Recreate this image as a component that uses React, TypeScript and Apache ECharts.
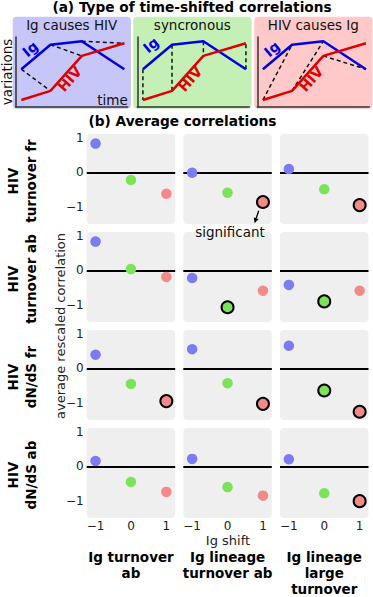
import React, { useEffect, useRef } from 'react';
import * as echarts from 'echarts';

// ---------- data ----------
const shifts = [-1, 0, 1];
const shiftTickLabels = ['\u22121', '0', '1'];
const corrTickValues = [-1, 0, 1];

const rowLabels = [
  ['HIV', 'turnover fr'],
  ['HIV', 'turnover ab'],
  ['HIV', 'dN/dS fr'],
  ['HIV', 'dN/dS ab'],
];
const colLabels = ['Ig turnover\nab', 'Ig lineage\nturnover ab', 'Ig lineage\nlarge\nturnover'];

// [column][shift -1, 0, 1]
const corrTurnoverFr = [[0.84, -0.22, -0.62], [-0.01, -0.59, -0.86], [0.1, -0.49, -0.95]];
const corrTurnoverAb = [[0.84, 0.04, -0.19], [-0.22, -1.07, -0.59], [-0.42, -0.9, -0.59]];
const corrDnDsFr = [[0.4, -0.45, -0.95], [0.56, -0.43, -1.03], [0.66, -0.64, -1.26]];
const corrDnDsAb = [[0.16, -0.45, -0.74], [0.22, -0.6, -0.85], [0.21, -0.78, -1.01]];

const sigTurnoverFr = [[0, 0, 0], [0, 0, 1], [0, 0, 1]];
const sigTurnoverAb = [[0, 0, 0], [0, 1, 0], [0, 1, 0]];
const sigDnDsFr = [[0, 0, 1], [0, 0, 1], [0, 1, 1]];
const sigDnDsAb = [[0, 0, 0], [0, 0, 0], [0, 0, 1]];

const corrRows = [corrTurnoverFr, corrTurnoverAb, corrDnDsFr, corrDnDsAb];
const sigRows = [sigTurnoverFr, sigTurnoverAb, sigDnDsFr, sigDnDsAb];

// schematic (panel a)
const schemeTitles = ['Ig causes HIV', 'syncronous', 'HIV causes Ig'];
const timePoints = [0.5, 3.1, 5.9, 9.7];
const igSignal = [0.54, 0.89, 0.94, 0.54];
const hivSignal = [0.1, 0.23, 0.73, 0.91];

// ---------- styles / layout ----------
const FONT = 'DejaVu Sans';
const BLUE = '#0000e0';
const RED = '#e00000';
const dotColors = ['#7b7bf2', '#7be35a', '#f28a8a'];
const boxColors = ['#c6c6f8', '#c4f0b6', '#ffc9c9'];
const boxLefts = [12.7, 133.3, 254.3];
const boxAxisLefts = [15.7, 137.3, 257.3];
const colLefts = [86.7, 183.3, 280];
const rowTops = [134, 232, 330, 428];
const PW = 88.5;
const PH = 90;

function buildOption() {
  const grid: any[] = [];
  const xAxis: any[] = [];
  const yAxis: any[] = [];
  const series: any[] = [];
  const graphic: any[] = [];

  const axisLineStyle = { color: '#333', width: 1.5 };

  // ---- panel (a) ----
  graphic.push({
    type: 'text', x: 192, y: 7, z: 10,
    style: { text: '(a) Type of time-shifted correlations', fontSize: 13.7, fontWeight: 'bold', fontFamily: FONT, fill: '#000', align: 'center', verticalAlign: 'middle' },
  });
  schemeTitles.forEach((title, b) => {
    graphic.push({
      type: 'rect', z: -1,
      shape: { x: boxLefts[b], y: 16.7, width: 118.2, height: 92, r: 4 },
      style: { fill: boxColors[b] },
    });
    graphic.push({
      type: 'text', x: boxLefts[b] + 59, y: 25, z: 10,
      style: { text: title, fontSize: 13.5, fontFamily: FONT, fill: '#111', align: 'center', verticalAlign: 'middle' },
    });
    graphic.push({
      type: 'text', x: boxLefts[b] + 17.5, y: b === 1 ? 45 : 49, z: 10, rotation: (40 * Math.PI) / 180,
      style: { text: 'Ig', fontSize: 14, fontWeight: 'bold', fontFamily: FONT, fill: BLUE, align: 'center', verticalAlign: 'middle' },
    });
    graphic.push({
      type: 'text', x: boxLefts[b] + 57, y: 79, z: 10, rotation: (48 * Math.PI) / 180,
      style: { text: 'HIV', fontSize: 14, fontWeight: 'bold', fontFamily: FONT, fill: RED, align: 'center', verticalAlign: 'middle' },
    });

    grid.push({ left: boxAxisLefts[b], top: 37, width: 112, height: 70, outerBoundsMode: 'none' });
    xAxis.push({
      gridIndex: b, type: 'value', min: 0, max: 10,
      axisLine: { show: true, onZero: false, lineStyle: axisLineStyle },
      axisTick: { show: false }, axisLabel: { show: false }, splitLine: { show: false },
    });
    yAxis.push({
      gridIndex: b, type: 'value', min: 0, max: 1,
      axisLine: { show: true, onZero: false, lineStyle: axisLineStyle },
      axisTick: { show: false }, axisLabel: { show: false }, splitLine: { show: false },
    });

    const pairs: number[][][] = [];
    if (b === 0) {
      for (let i = 0; i < 3; i++) pairs.push([[timePoints[i], igSignal[i]], [timePoints[i + 1], hivSignal[i + 1]]]);
    } else if (b === 1) {
      for (let i = 0; i < 4; i++) pairs.push([[timePoints[i], igSignal[i]], [timePoints[i], hivSignal[i]]]);
    } else {
      for (let i = 0; i < 3; i++) pairs.push([[timePoints[i], hivSignal[i]], [timePoints[i + 1], igSignal[i + 1]]]);
    }
    pairs.forEach((p) => {
      series.push({
        type: 'line', xAxisIndex: b, yAxisIndex: b, data: p, symbol: 'none', silent: true, z: 2,
        lineStyle: { color: '#111', width: 1.5, type: [4, 3] },
      });
    });
    series.push({
      type: 'line', xAxisIndex: b, yAxisIndex: b, symbol: 'none', silent: true, z: 3,
      data: timePoints.map((t, i) => [t, igSignal[i]]),
      lineStyle: { color: BLUE, width: 2.5 },
    });
    series.push({
      type: 'line', xAxisIndex: b, yAxisIndex: b, symbol: 'none', silent: true, z: 4,
      data: timePoints.map((t, i) => [t, hivSignal[i]]),
      lineStyle: { color: RED, width: 2.5 },
    });
  });
  graphic.push({
    type: 'text', x: 6.5, y: 72, z: 10, rotation: Math.PI / 2,
    style: { text: 'variations', fontSize: 13.5, fontFamily: FONT, fill: '#111', align: 'center', verticalAlign: 'middle' },
  });
  graphic.push({
    type: 'text', x: 112.5, y: 99.5, z: 10,
    style: { text: 'time', fontSize: 13.5, fontFamily: FONT, fill: '#111', align: 'center', verticalAlign: 'middle' },
  });

  // ---- panel (b) ----
  graphic.push({
    type: 'text', x: 182.5, y: 121, z: 10,
    style: { text: '(b) Average correlations', fontSize: 13.7, fontWeight: 'bold', fontFamily: FONT, fill: '#000', align: 'center', verticalAlign: 'middle' },
  });

  const fmt = (v: number) => shiftTickLabels[corrTickValues.indexOf(Math.round(v))] ?? String(v);

  rowTops.forEach((top, r) => {
    colLefts.forEach((left, c) => {
      const gi = grid.length;
      graphic.push({
        type: 'rect', z: -1,
        shape: { x: left, y: top, width: PW, height: PH, r: 4 },
        style: { fill: '#efefef' },
      });
      grid.push({ left, top, width: PW, height: PH, outerBoundsMode: 'none' });
      xAxis.push({
        gridIndex: gi, type: 'value', min: -1.25, max: 1.25,
        axisLine: { show: false }, axisTick: { show: false }, splitLine: { show: false },
        axisLabel: {
          show: r === rowTops.length - 1, customValues: shifts, formatter: fmt,
          margin: 2, fontSize: 12, fontFamily: FONT, color: '#222',
        },
      });
      yAxis.push({
        gridIndex: gi, type: 'value', min: -1.5, max: 1.12,
        axisLine: { show: false }, axisTick: { show: false }, splitLine: { show: false },
        axisLabel: {
          show: c === 0, customValues: corrTickValues, formatter: fmt,
          margin: 3, fontSize: 12, fontFamily: FONT, color: '#222',
        },
      });
      const vals = corrRows[r][c];
      const sig = sigRows[r][c];
      series.push({
        type: 'scatter', xAxisIndex: gi, yAxisIndex: gi, z: 3, clip: false, silent: true,
        data: shifts.map((s, k) => ({
          value: [s, vals[k]],
          symbolSize: sig[k] ? 12 : 10.5,
          itemStyle: {
            color: dotColors[k], opacity: 1,
            borderColor: sig[k] ? '#000' : dotColors[k],
            borderWidth: sig[k] ? 2 : 0,
          },
        })),
        markLine: {
          silent: true, z: 1, symbol: ['none', 'none'],
          label: { show: false },
          lineStyle: { color: '#000', width: 1.8, type: 'solid' },
          emphasis: { disabled: true },
          data: [{ yAxis: 0 }],
        },
      });
    });
    const cy = top + 47;
    graphic.push({
      type: 'text', x: 13, y: cy, z: 10, rotation: Math.PI / 2,
      style: { text: rowLabels[r][0], fontSize: 13.5, fontWeight: 'bold', fontFamily: FONT, fill: '#000', align: 'center', verticalAlign: 'middle' },
    });
    graphic.push({
      type: 'text', x: 31, y: cy, z: 10, rotation: Math.PI / 2,
      style: { text: rowLabels[r][1], fontSize: 13.5, fontWeight: 'bold', fontFamily: FONT, fill: '#000', align: 'center', verticalAlign: 'middle' },
    });
  });

  graphic.push({
    type: 'text', x: 60, y: 326, z: 10, rotation: Math.PI / 2,
    style: { text: 'average rescaled correlation', fontSize: 13, fontFamily: FONT, fill: '#222', align: 'center', verticalAlign: 'middle' },
  });
  graphic.push({
    type: 'text', x: 228, y: 540, z: 10,
    style: { text: 'Ig shift', fontSize: 13, fontFamily: FONT, fill: '#222', align: 'center', verticalAlign: 'middle' },
  });
  colLabels.forEach((lab, c) => {
    graphic.push({
      type: 'text', x: colLefts[c] + PW / 2, y: 549, z: 10,
      style: { text: lab, fontSize: 13.5, fontWeight: 'bold', fontFamily: FONT, fill: '#000', align: 'center', verticalAlign: 'top', lineHeight: 16 },
    });
  });

  // annotation
  graphic.push({
    type: 'text', x: 230, y: 231.5, z: 10,
    style: { text: 'significant', fontSize: 13.5, fontFamily: FONT, fill: '#111', align: 'center', verticalAlign: 'middle' },
  });
  graphic.push({
    type: 'polyline', z: 10,
    shape: { points: [[258.7, 210.7], [256.2, 218.3]] },
    style: { stroke: '#000', lineWidth: 1.3, fill: null },
  });
  graphic.push({
    type: 'polygon', z: 10,
    shape: { points: [[254.6, 223.2], [258.6, 219.0], [253.8, 217.5]] },
    style: { fill: '#000' },
  });

  return {
    animation: false,
    backgroundColor: '#fff',
    textStyle: { fontFamily: FONT },
    grid, xAxis, yAxis, series, graphic,
  };
}

export default function App() {
  const ref = useRef<HTMLDivElement>(null);
  useEffect(() => {
    document.body.style.margin = '0';
    const chart = echarts.init(ref.current as HTMLDivElement, null, { renderer: 'svg' });
    chart.setOption(buildOption() as any);
    return () => chart.dispose();
  }, []);
  return <div ref={ref} style={{ position: 'absolute', left: 0, top: 0, width: 373, height: 597 }} />;
}
